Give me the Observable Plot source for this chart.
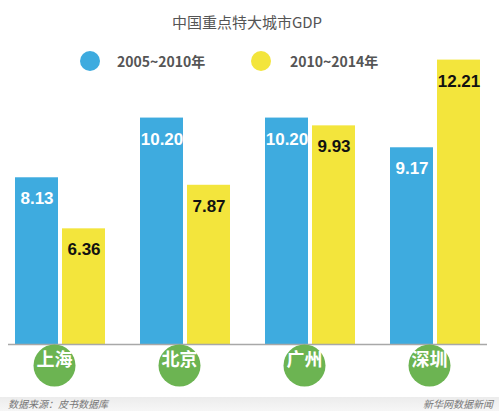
<!DOCTYPE html>
<html><head><meta charset="utf-8">
<script src="https://cdn.jsdelivr.net/npm/d3@7"></script>
<script src="https://cdn.jsdelivr.net/npm/@observablehq/plot@0.6"></script>
<style>
body{margin:0;background:#fff;font-family:"Noto Sans CJK SC","Noto Sans",sans-serif;}
#wrap{position:relative;width:499px;height:411px;overflow:hidden;background:#fff;}
#chart{position:absolute;top:0;left:0;}
#title{position:absolute;top:11px;left:0;width:494px;text-align:center;font-size:15px;color:#555;line-height:22px;}
.leg{position:absolute;top:51px;height:20px;display:flex;align-items:center;font-size:14px;font-weight:bold;color:#555;white-space:nowrap;}
.leg .sw{width:20px;height:20px;border-radius:50%;margin-right:17px;flex:none;}
#footer{position:absolute;top:397px;left:0;width:499px;height:14px;background:linear-gradient(#ececec,#f6f6f6);font-size:10px;font-style:italic;color:#777;line-height:14px;}
#footer .l{position:absolute;left:8px;top:0;}
#footer .r{position:absolute;right:6px;top:0;}
</style>
</head><body>
<div id="wrap">
  <div id="chart"></div>
  <div id="title"></div>
  <div id="legend"></div>
  <div id="footer"><span class="l"></span><span class="r"></span></div>
</div>
<script>
const titleText = "中国重点特大城市GDP";
const cities = ["上海", "北京", "广州", "深圳"];
const series = ["2005~2010年", "2010~2014年"];
const gdp0510 = [8.13, 10.20, 10.20, 9.17];
const gdp1014 = [6.36, 7.87, 9.93, 12.21];
const colors = ["#3eabdf", "#f3e53c"];
const labelColors = ["#ffffff", "#111111"];
const yDomain = [2.35, 12.3];
const sourceText = "数据来源：皮书数据库";
const creditText = "新华网数据新闻";

const values = [gdp0510, gdp1014];
const rows = series.map((s, i) => cities.map((c, j) => ({city: c, series: s, value: values[i][j]})));

document.getElementById("title").textContent = titleText;
document.querySelector("#footer .l").textContent = sourceText;
document.querySelector("#footer .r").textContent = creditText;
const legendLefts = [80, 251];
const leg = document.getElementById("legend");
series.forEach((s, i) => {
  const d = document.createElement("div");
  d.className = "leg";
  d.style.left = legendLefts[i] + "px";
  d.innerHTML = `<span class="sw" style="background:${colors[i]};margin-right:${i ? 19 : 17}px"></span><span>${s}</span>`;
  leg.appendChild(d);
});

const insets = [{insetRight: 47}, {insetLeft: 47}];
const dxs = [-23.5, 23.5];

const chart = Plot.plot({
  width: 499,
  height: 397,
  marginLeft: 8,
  marginRight: 12,
  marginTop: 57,
  marginBottom: 53,
  x: {domain: cities, paddingInner: 0.282, paddingOuter: 0.0525, axis: null},
  y: {domain: yDomain, clamp: true, axis: null},
  marks: [
    ...rows.map((r, i) => Plot.barY(r, {x: "city", y: "value", fill: colors[i], ...insets[i]})),
    Plot.ruleY([yDomain[0]], {stroke: "#a8a8a8", strokeWidth: 1.5}),
    ...rows.map((r, i) => Plot.text(r, {
      x: "city", y: "value", text: d => d.value.toFixed(2),
      dx: dxs[i], dy: 21, fill: labelColors[i],
      fontSize: 17, fontWeight: "bold", fontFamily: "Liberation Sans, Arial, sans-serif"
    })),
    Plot.dot(cities, {x: d => d, frameAnchor: "bottom", dy: 21, dx: -6, r: 21, fill: "#6cb452", stroke: "none"}),
    Plot.text(cities, {x: d => d, text: d => d, frameAnchor: "bottom", dy: 21, dx: -6, fill: "#ffffff",
      fontSize: 18, fontWeight: "bold", fontFamily: "Noto Sans CJK SC, sans-serif"})
  ]
});
document.getElementById("chart").appendChild(chart);
</script>
</body></html>
